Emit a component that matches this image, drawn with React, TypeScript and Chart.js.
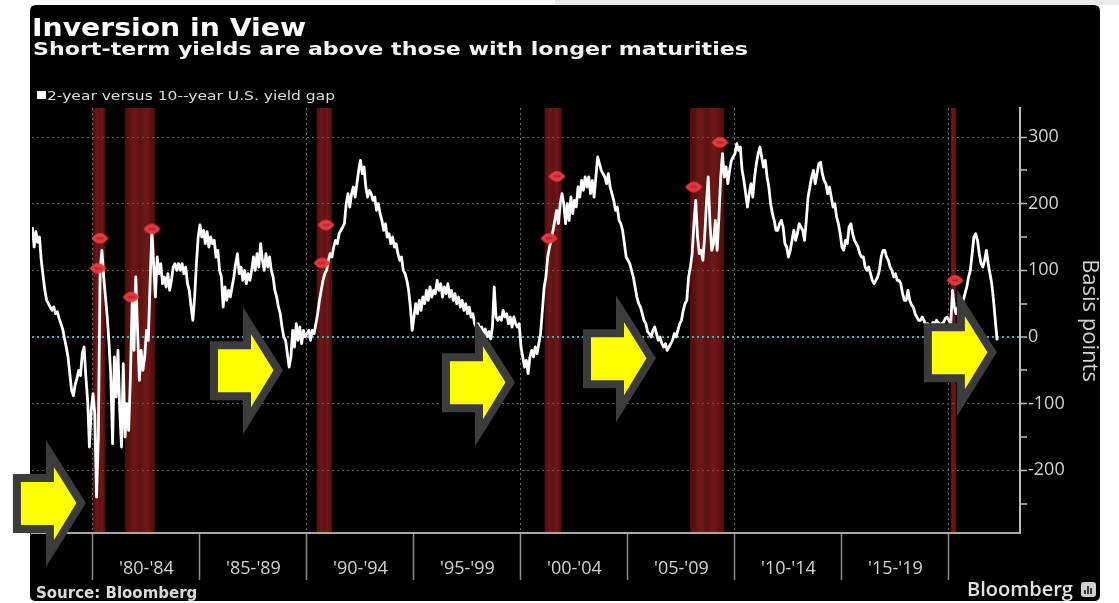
import { useEffect, useRef } from 'react';
import { Chart, registerables } from 'chart.js';

Chart.register(...registerables);

// ---------------- DATA (basis points, monthly) ----------------
const firstYear = 1977;
const firstMonth = 3; // series starts March 1977

const spread1977to1979 = [
  165, 135, 158, 142, 150, 115, 92, 70, 55, 50,
  45, 40, 45, 35, 38, 28, 20, 12, -2, -15, -30, -55,
  -80, -88, -72, -62, -50, -58, -25, -15, -60, -95, -165, -110,
];
const spread1980s = [
  -85, -115, -240, -150, 100, 130, 90, 60, 30, -10, -60, -160,
  -30, -90, -20, -110, -165, -40, -150, -100, -140, -60, 55, -20,
  90, 10, -65, -20, -50, -30, 10, -5, 80, 160, 110, 60,
  120, 95, 110, 80, 90, 75, 95, 70, 85, 105, 110, 100,
  110, 100, 110, 95, 105, 80, 70, 45, 25, 60, 110, 150,
  168, 150, 160, 140, 158, 135, 150, 140, 145, 120, 130, 100,
  90, 45, 75, 55, 70, 60, 75, 90, 110, 125, 95, 105,
  85, 100, 80, 95, 85, 100, 120, 100, 125, 105, 140, 115,
  100, 125, 105, 120, 100, 90, 70, 60, 45, 35, 15, 0,
  -5, -25, -45, -30, 10, -15, 20, -5, 15, -10, 10, 0,
];
const spread1990s = [
  5, 10, -5, 10, 5, 20, 35, 55, 70, 85, 95, 100,
  115, 125, 120, 135, 145, 140, 155, 160, 165, 170, 200, 215,
  195, 215, 225, 210, 230, 250, 265, 245, 255, 225, 210, 220,
  215, 205, 210, 190, 200, 185, 175, 160, 170, 150, 155, 140,
  150, 135, 140, 125, 115, 120, 100, 95, 85, 70, 45, 10,
  30, 50, 35, 55, 40, 60, 50, 70, 55, 75, 60, 70,
  65, 85, 70, 80, 60, 75, 65, 80, 60, 70, 55, 65,
  50, 60, 45, 55, 40, 50, 35, 45, 30, 35, 20, 15,
  20, 10, 15, 5, 12, 0, 8, -3, 15, 75, 30, 25,
  30, 25, 40, 30, 35, 20, 30, 15, 30, 20, 15, 20,
];
const spread2000s = [
  -15, -30, -45, -35, -55, -30, -20, -30, -15, -25, -10, 5,
  40, 75, 90, 120, 135, 145, 160, 175, 190, 170, 200, 215,
  200, 170, 200, 175, 210, 185, 205, 195, 225, 210, 235, 220,
  240, 225, 240, 215, 235, 210, 240, 270, 260, 250, 245, 240,
  230, 245, 225, 215, 205, 190, 195, 175, 170, 160, 140, 120,
  115, 110, 100, 90, 75, 60, 50, 45, 35, 25, 20, 8,
  5, 0, 10, 15, 5, -5, 0, -10, -15, -10, -20, -15,
  -10, -5, 5, 0, 10, 20, 25, 40, 50, 55, 90, 105,
  125, 170, 205, 150, 125, 130, 115, 150, 200, 240, 170, 130,
  140, 175, 130, 180, 240, 275, 240, 255, 230, 250, 265, 270,
];
const spread2010s = [
  275, 290, 280, 285, 250, 235, 215, 195, 215, 230, 210, 240,
  260, 275, 285, 270, 255, 265, 240, 225, 200, 185, 175, 160,
  160, 170, 175, 165, 140, 135, 120, 130, 145, 160, 145, 155,
  170, 165, 160, 145, 175, 210, 225, 240, 250, 230, 245, 260,
  262, 245, 235, 230, 215, 225, 210, 195, 200, 180, 170, 155,
  135, 130, 145, 140, 165, 170, 155, 145, 140, 135, 125, 120,
  120, 105, 100, 105, 95, 85, 80, 85, 90, 100, 120, 130,
  130, 120, 115, 105, 100, 90, 95, 85, 85, 80, 65, 55,
  55, 70, 55, 48, 45, 35, 30, 25, 25, 30, 25, 18,
  20, 18, 15, 22, 20, 25, 22, 18, 20, 22, 28, 30,
];
const spread2020s = [
  25, 20, 70, 45, 35, 45, 45, 50, 55, 65, 75, 90,
  100, 125, 150, 155, 145, 125, 110, 105, 115, 130, 110, 95,
  80, 55, 25, -5,
];

const spreadBasisPoints = [
  ...spread1977to1979, ...spread1980s, ...spread1990s,
  ...spread2000s, ...spread2010s, ...spread2020s,
];
const monthPositions = spreadBasisPoints.map((_, i) => firstYear + (firstMonth - 1 + i) / 12);

// recessions (decimal years)
const recessionStarts = [1980.0, 1981.5, 1990.45, 2001.1, 2007.9, 2020.08];
const recessionEnds = [1980.58, 1982.9, 1991.17, 2001.9, 2009.5, 2020.33];

// red event markers
const eventYears = [1980.33, 1980.23, 1981.78, 1982.76, 1990.7, 1990.89, 2001.31, 2001.68, 2008.07, 2009.3, 2020.28];
const eventValues = [148, 103, 60, 162, 111, 168, 148, 241, 225, 292, 85];

// yellow arrow tips (annotation)
const arrowTipYears = [1979.67, 1988.88, 1999.72, 2006.31, 2022.24];
const arrowTipValues = [-249, -50, -68, -32, -23];

// axes
const periodStarts = [1980, 1985, 1990, 1995, 2000, 2005, 2010, 2015, 2020];
const periodLabels = ["'80-'84", "'85-'89", "'90-'94", "'95-'99", "'00-'04", "'05-'09", "'10-'14", "'15-'19", ''];
const yTickValues = [-250, -200, -150, -100, -50, 0, 50, 100, 150, 200, 250, 300];
const xMin = 1977.15;
const xMax = 2023.32;
const yMin = -294;
const yMax = 343.5;

// texts
const titleText = 'Inversion in View';
const subtitleText = 'Short-term yields are above those with longer maturities';
const legendText = '2-year versus 10--year U.S. yield gap';
const sourceText = 'Source: Bloomberg';
const brandText = 'Bloomberg';
const axisTitle = 'Basis points';

// ---------------- drawing helpers ----------------
function stretchedText(ctx: any, text: string, x: number, y: number, font: string, color: string, width?: number) {
  ctx.save();
  ctx.font = font;
  ctx.fillStyle = color;
  ctx.textAlign = 'left';
  ctx.textBaseline = 'alphabetic';
  const w = ctx.measureText(text).width;
  const sx = width ? width / w : 1;
  ctx.translate(x, y);
  ctx.scale(sx, 1);
  ctx.fillText(text, 0, 0);
  ctx.restore();
}

function rr(ctx: any, x: number, y: number, w: number, h: number, r: number) {
  ctx.beginPath();
  ctx.moveTo(x + r, y);
  ctx.lineTo(x + w - r, y);
  ctx.quadraticCurveTo(x + w, y, x + w, y + r);
  ctx.lineTo(x + w, y + h - r);
  ctx.quadraticCurveTo(x + w, y + h, x + w - r, y + h);
  ctx.lineTo(x + r, y + h);
  ctx.quadraticCurveTo(x, y + h, x, y + h - r);
  ctx.lineTo(x, y + r);
  ctx.quadraticCurveTo(x, y, x + r, y);
  ctx.closePath();
}

const arrowOuter = [[0, 0], [-40, -63], [-40, -29], [-73, -29], [-73, 30], [-40, 30], [-40, 64]];
const arrowInner = [[-9.5, 0], [-32, -36], [-32, -21], [-65, -21], [-65, 22], [-32, 22], [-32, 37]];

function poly(ctx: any, pts: number[][], tx: number, ty: number, color: string) {
  ctx.beginPath();
  pts.forEach(([px, py], i) => (i === 0 ? ctx.moveTo(tx + px, ty + py) : ctx.lineTo(tx + px, ty + py)));
  ctx.closePath();
  ctx.fillStyle = color;
  ctx.fill();
}

const decorPlugin = {
  id: 'bloombergDecor',
  beforeDraw(chart: any) {
    const { ctx, width, height, chartArea, scales } = chart;
    ctx.save();
    ctx.fillStyle = '#ffffff';
    ctx.fillRect(0, 0, width, height);
    ctx.fillStyle = '#ebebeb';
    ctx.fillRect(555, 0, width - 555, 5);
    ctx.fillStyle = '#000000';
    rr(ctx, 30, 5, 1070, 596, 6);
    ctx.fill();

    // recession bands
    const xs = scales.x;
    recessionStarts.forEach((s, i) => {
      const x0 = xs.getPixelForValue(s);
      const x1 = xs.getPixelForValue(recessionEnds[i]);
      const g = ctx.createLinearGradient(x0, 0, x1, 0);
      g.addColorStop(0, 'rgb(78,12,12)');
      g.addColorStop(0.3, 'rgb(110,24,24)');
      g.addColorStop(0.5, 'rgb(94,18,18)');
      g.addColorStop(0.7, 'rgb(112,24,24)');
      g.addColorStop(1, 'rgb(78,12,12)');
      ctx.fillStyle = g;
      ctx.fillRect(x0, chartArea.top, x1 - x0, chartArea.bottom - chartArea.top);
    });

    // header
    stretchedText(ctx, titleText, 32, 36, 'bold 25px "DejaVu Sans"', '#ffffff', 274);
    stretchedText(ctx, subtitleText, 33, 55, 'bold 18px "DejaVu Sans"', '#f4f4f4', 715);
    ctx.fillStyle = '#ffffff';
    ctx.fillRect(37, 91, 9, 8);
    stretchedText(ctx, legendText, 47, 100, '13px "DejaVu Sans"', '#dcdcdc', 288);

    // footer
    stretchedText(ctx, sourceText, 36, 598, 'bold 15px "DejaVu Sans"', '#dadada');
    stretchedText(ctx, brandText, 967, 596, '600 20px "Open Sans"', '#e2e2e2');
    ctx.fillStyle = '#cfcfcf';
    rr(ctx, 1081, 582, 15, 15, 3);
    ctx.fill();
    ctx.fillStyle = '#3a3a3a';
    ctx.fillRect(1084, 590, 2, 4);
    ctx.fillRect(1087, 586, 2, 8);
    ctx.fillRect(1090, 588, 2, 6);
    ctx.restore();
  },
  afterDraw(chart: any) {
    const { ctx, scales } = chart;
    ctx.save();
    arrowTipYears.forEach((yr, i) => {
      const tx = scales.x.getPixelForValue(yr);
      const ty = scales.y.getPixelForValue(arrowTipValues[i]);
      poly(ctx, arrowOuter, tx, ty, '#3c3c3c');
      poly(ctx, arrowInner, tx, ty, '#ffff00');
    });
    ctx.restore();
  },
};

function makeMarker() {
  const c = document.createElement('canvas');
  c.width = 19;
  c.height = 13;
  const g = c.getContext('2d')!;
  g.beginPath();
  g.moveTo(1, 6.5);
  g.quadraticCurveTo(9.5, -4, 18, 6.5);
  g.quadraticCurveTo(9.5, 17, 1, 6.5);
  g.closePath();
  g.fillStyle = '#e4393f';
  g.fill();
  g.fillStyle = '#b3252b';
  g.fillRect(6, 5.5, 7, 2);
  return c;
}

const tickFont = { family: '"Open Sans", sans-serif', size: 18 };

export default function App() {
  const ref = useRef<HTMLCanvasElement>(null);

  useEffect(() => {
    document.body.style.margin = '0';
    const canvas = ref.current as HTMLCanvasElement;
    const marker = makeMarker();
    const chart = new Chart(canvas, {
      type: 'line',
      data: {
        datasets: [
          {
            label: 'events',
            data: eventYears.map((x, i) => ({ x, y: eventValues[i] })),
            showLine: false,
            pointStyle: marker as any,
            pointRadius: 9,
            order: 0,
          },
          {
            label: legendText,
            data: monthPositions.map((x, i) => ({ x, y: spreadBasisPoints[i] })),
            borderColor: '#ffffff',
            borderWidth: 2.8,
            borderJoinStyle: 'round',
            pointRadius: 0,
            tension: 0,
            fill: false,
            order: 1,
          },
        ],
      },
      options: {
        responsive: false,
        animation: false,
        events: [],
        layout: { padding: { left: 32, right: 19, top: 108, bottom: 0 } },
        plugins: {
          legend: { display: false },
          title: { display: false },
          tooltip: { enabled: false },
        },
        scales: {
          x: {
            type: 'linear',
            position: 'bottom',
            min: xMin,
            max: xMax,
            afterBuildTicks: (s: any) => {
              s.ticks = periodStarts.map((v) => ({ value: v }));
            },
            afterFit: (s: any) => {
              s.height = 70;
            },
            ticks: {
              autoSkip: false,
              maxRotation: 0,
              minRotation: 0,
              labelOffset: 53.5,
              padding: -22,
              color: '#d2d2d2',
              font: tickFont,
              callback: (_v: any, i: number) => periodLabels[i] ?? '',
            },
            grid: {
              display: true,
              drawOnChartArea: true,
              drawTicks: true,
              tickLength: 47,
              tickColor: '#8c8c8c',
              tickWidth: 1.5,
              lineWidth: 1,
              color: (c: any) => (c.tick && c.tick.value % 10 === 0 ? '#6a6a6a' : 'transparent'),
            },
            border: { display: true, color: '#a8a8a8', width: 2, dash: [2, 3] },
          },
          y: {
            type: 'linear',
            position: 'right',
            min: yMin,
            max: yMax,
            afterBuildTicks: (s: any) => {
              s.ticks = yTickValues.map((v) => ({ value: v }));
            },
            afterFit: (s: any) => {
              s.width = 80;
            },
            ticks: {
              padding: 1,
              color: '#d2d2d2',
              font: tickFont,
              callback: (v: any) => (Number(v) % 100 === 0 ? String(v) : ''),
            },
            grid: {
              tickLength: 7,
              tickColor: '#bdbdbd',
              tickWidth: 1.5,
              color: (c: any) => (c.tick && c.tick.value === 0 ? '#4fa9b8' : '#5e5e5e'),
              lineWidth: (c: any) =>
                c.tick && c.tick.value === 0 ? 2 : c.tick && c.tick.value % 100 === 0 ? 1 : 0,
            },
            border: { display: true, color: '#bdbdbd', width: 2, dash: [2, 3] },
            title: {
              display: true,
              text: axisTitle,
              color: '#d2d2d2',
              font: { family: '"Open Sans", sans-serif', size: 22, lineHeight: 1 },
              padding: 0,
            },
          },
        },
      } as any,
      plugins: [decorPlugin as any],
    });
    if ((document as any).fonts && (document as any).fonts.ready) {
      (document as any).fonts.ready.then(() => chart.update());
    }
    return () => chart.destroy();
  }, []);

  return (
    <div style={{ width: 1119, height: 603 }}>
      <canvas ref={ref} width={1119} height={603} style={{ display: 'block' }} />
    </div>
  );
}
